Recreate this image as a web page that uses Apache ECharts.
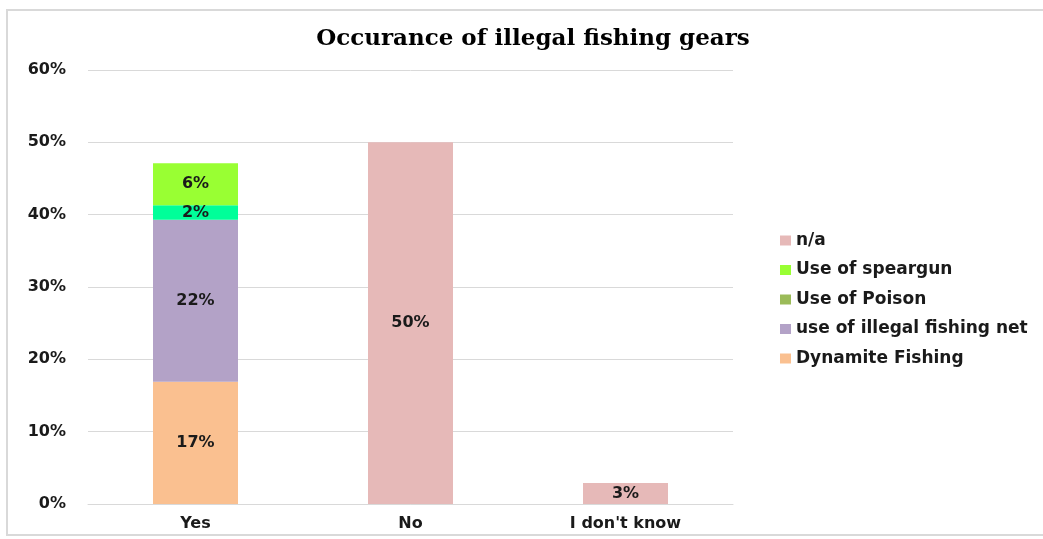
<!DOCTYPE html>
<html><head><meta charset="utf-8">
<script src="https://cdn.jsdelivr.net/npm/echarts@6/dist/echarts.min.js"></script>
<style>html,body{margin:0;padding:0;background:#fff}#c{width:1043px;height:539px}</style>
</head><body><div id="c"></div>
<script>
const categories = ["Yes", "No", "I don't know"];
const dynamite = [16.9, null, null];
const illegalNet = [22.4, null, null];
const poison = [2.0, null, null];
const speargun = [5.8, null, null];
const na = [null, 50, 2.9];
const yTicks = [0, 10, 20, 30, 40, 50, 60];

const labelFont = {fontFamily: 'DejaVu Sans', fontWeight: 'bold', fontSize: 16, color: '#1a1a1a'};
function mk(name, data, color) {
  return {
    name, type: 'bar', stack: 'a', data, barWidth: 85,
    itemStyle: {color},
    label: {show: true, position: 'inside', formatter: p => Math.round(p.value) + '%', ...labelFont},
    emphasis: {disabled: true}
  };
}
const chart = echarts.init(document.getElementById('c'));
chart.setOption({
  animation: false,
  title: {text: 'Occurance of illegal fishing gears', left: 528, top: 23, textAlign: 'center',
    textStyle: {fontFamily: 'DejaVu Serif', fontWeight: 'bold', fontSize: 23, color: '#000'}},
  graphic: [{type: 'rect', shape: {x: 7, y: 10, width: 1050, height: 525}, style: {fill: 'none', stroke: '#d9d9d9', lineWidth: 2}, silent: true}],
  grid: {left: 88, right: 310, top: 70, bottom: 35},
  legend: {
    orient: 'vertical', left: 775, top: 227, itemGap: 12.5, itemWidth: 11, itemHeight: 10,
    data: ['n/a', 'Use of speargun', 'Use of Poison', 'use of illegal fishing net', 'Dynamite Fishing'],
    textStyle: {fontFamily: 'DejaVu Sans', fontWeight: 'bold', fontSize: 17, color: '#1a1a1a'},
    icon: 'rect', itemStyle: {borderWidth: 0}
  },
  xAxis: {type: 'category', data: categories,
    axisLine: {lineStyle: {color: '#d9d9d9'}}, axisTick: {show: false},
    axisLabel: {...labelFont, margin: 12}},
  yAxis: {type: 'value', min: 0, max: 60, interval: 10,
    axisLabel: {formatter: v => yTicks.includes(v) ? v + '%' : '', ...labelFont, margin: 22},
    splitLine: {lineStyle: {color: '#d9d9d9'}}, axisLine: {show: false}, axisTick: {show: false}},
  series: [
    mk('Dynamite Fishing', dynamite, '#FAC090'),
    mk('use of illegal fishing net', illegalNet, '#B3A2C7'),
    mk('Use of Poison', poison.map(v => v == null ? null : {value: v, itemStyle: {color: '#00FF99'}}), '#9BBB59'),
    mk('Use of speargun', speargun, '#99FF33'),
    mk('n/a', na, '#E6B9B8')
  ]
});
</script></body></html>
